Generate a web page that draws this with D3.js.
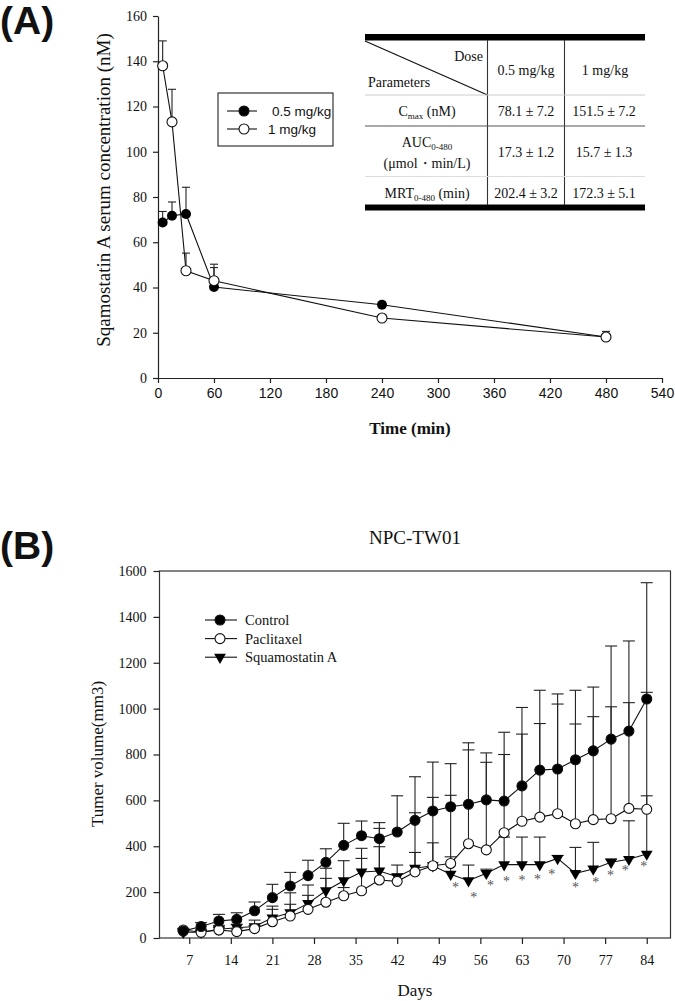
<!DOCTYPE html>
<html><head><meta charset="utf-8">
<script src="https://cdn.jsdelivr.net/npm/d3@7"></script>
<style>body{margin:0;background:#fff}svg{display:block}</style>
</head><body>
<svg id="c" width="675" height="1001"></svg>
<script>
// ---------------- Panel A data ----------------
const timesA = [5, 15, 30, 60, 240, 480];
const lowDoseMean = [68.7, 71.7, 72.5, 40.2, 32.4, 18.1];
const lowDoseTop  = [73.6, 77.8, 84.3, 50.3, 33.5, 20.6];
const highDoseMean = [138.0, 113.2, 47.4, 43.0, 26.5, 18.1];
const highDoseTop  = [149.0, 127.6, 55.2, 48.8, 27.5, 19.5];
const timeTicks = [0, 60, 120, 180, 240, 300, 360, 420, 480, 540];
const concTicks = [0, 20, 40, 60, 80, 100, 120, 140, 160];
const legendA = ["0.5 mg/kg", "1 mg/kg"];

// table
const tableCols = ["0.5 mg/kg", "1 mg/kg"];
const paramMain = ["C", "AUC", "MRT"];
const paramSub = ["max", "0-480", "0-480"];
const paramUnit = ["(nM)", "(μmol・min/L)", "(min)"];
const tableLow = ["78.1 ± 7.2", "17.3 ± 1.2", "202.4 ± 3.2"];
const tableHigh = ["151.5 ± 7.2", "15.7 ± 1.3", "172.3 ± 5.1"];

// ---------------- Panel B data ----------------
const daysB = [6, 9, 12, 15, 18, 21, 24, 27, 30, 33, 36, 39, 42, 45, 48, 51, 54, 57, 60, 63, 66, 69, 72, 75, 78, 81, 84];
const controlMean = [30, 50, 74, 81, 119, 176, 227, 272, 330, 404, 446, 433, 462, 513, 554, 572, 583, 602, 597, 663, 732, 737, 777, 816, 867, 902, 1042];
const controlTop  = [38, 67, 103, 110, 157, 234, 286, 339, 389, 500, 510, 503, 620, 703, 767, 760, 851, 807, 897, 1005, 1080, 1064, 1080, 1094, 1273, 1295, 1549];
const paclMean = [35, 25, 35, 28, 41, 71, 96, 125, 156, 184, 206, 253, 247, 288, 315, 325, 411, 384, 459, 509, 527, 542, 498, 516, 520, 565, 561];
const paclTop  = [42, 35, 45, 40, 55, 125, 147, 186, 260, 220, 347, 478, 278, 373, 613, 622, 820, 766, 800, 889, 935, 1020, 933, 965, 1008, 1026, 1071];
const squaMean = [25, 25, 38, 45, 50, 88, 110, 151, 206, 250, 288, 292, 267, 304, 315, 278, 250, 282, 320, 320, 320, 347, 282, 301, 330, 343, 366];
const squaTop  = [30, 32, 55, 60, 78, 139, 197, 231, 304, 337, 391, 398, 318, 546, 415, 354, 318, 300, 440, 440, 440, 360, 395, 417, 345, 511, 620];
const starDays = [51.8, 54.9, 57.7, 60.4, 63, 65.6, 68, 72, 75.4, 77.9, 80.4, 83.5];
const starVals = [235, 192, 245, 263, 267, 270, 293, 235, 256, 286, 311, 328];
const dayTicks = [7, 14, 21, 28, 35, 42, 49, 56, 63, 70, 77, 84];
const volTicks = [0, 200, 400, 600, 800, 1000, 1200, 1400, 1600];
const legendB = ["Control", "Paclitaxel", "Squamostatin A"];

const SERIF = "'Liberation Serif','Times New Roman',serif";
const SANS = "'Liberation Sans',Arial,sans-serif";
const svg = d3.select("#c");

function styleAxis(g, font, size) {
  g.attr("font-family", null).attr("font-size", null);
  g.selectAll("path,line").attr("stroke", "#222").attr("stroke-width", 1.2);
  g.selectAll("text").style("font-family", font).style("font-size", size + "px").attr("fill", "#111");
}

// ================= PANEL A =================
svg.append("text").attr("x", 0).attr("y", 34).text("(A)")
  .style("font-family", SANS).attr("font-weight", "bold").attr("font-size", 39).attr("fill", "#111");

const xA = d3.scaleLinear().domain([0, 540]).range([158, 662]);
const yA = d3.scaleLinear().domain([0, 160]).range([378, 16]);

const gxA = svg.append("g").attr("transform", "translate(0,378)")
  .call(d3.axisBottom(xA).tickValues(timeTicks).tickFormat(d3.format("d")).tickSize(5).tickSizeOuter(0).tickPadding(5));
styleAxis(gxA, SANS, 14);
const gyA = svg.append("g").attr("transform", "translate(158,0)")
  .call(d3.axisLeft(yA).tickValues(concTicks).tickFormat(d3.format("d")).tickSize(5).tickSizeOuter(0).tickPadding(6));
styleAxis(gyA, SERIF, 14);

svg.append("text").attr("transform", "translate(110,190) rotate(-90)").attr("text-anchor", "middle")
  .style("font-family", SERIF).attr("font-size", 19).attr("fill", "#111")
  .text("Sqamostatin A serum concentration (nM)");
svg.append("text").attr("x", 410).attr("y", 434).attr("text-anchor", "middle")
  .style("font-family", SERIF).attr("font-size", 17).attr("font-weight", "bold").attr("fill", "#111")
  .text("Time (min)");

function seriesA(means, tops) {
  const g = svg.append("g");
  timesA.forEach((t, i) => {
    const x = xA(t);
    g.append("line").attr("x1", x).attr("x2", x).attr("y1", yA(means[i])).attr("y2", yA(tops[i])).attr("stroke", "#222").attr("stroke-width", 1.1);
    g.append("line").attr("x1", x - 4).attr("x2", x + 4).attr("y1", yA(tops[i])).attr("y2", yA(tops[i])).attr("stroke", "#222").attr("stroke-width", 1.1);
  });
  return g;
}
seriesA(lowDoseMean, lowDoseTop);
seriesA(highDoseMean, highDoseTop);
const lineA = d3.line().x((d, i) => xA(timesA[i])).y(d => yA(d));
svg.append("path").attr("d", lineA(lowDoseMean)).attr("fill", "none").attr("stroke", "#111").attr("stroke-width", 1.1);
svg.append("path").attr("d", lineA(highDoseMean)).attr("fill", "none").attr("stroke", "#111").attr("stroke-width", 1.1);
svg.append("g").selectAll("circle").data(lowDoseMean).join("circle")
  .attr("cx", (d, i) => xA(timesA[i])).attr("cy", d => yA(d)).attr("r", 5).attr("fill", "#000");
svg.append("g").selectAll("circle").data(highDoseMean).join("circle")
  .attr("cx", (d, i) => xA(timesA[i])).attr("cy", d => yA(d)).attr("r", 5).attr("fill", "#fff").attr("stroke", "#111").attr("stroke-width", 1.1);

// legend A
svg.append("rect").attr("x", 218).attr("y", 93).attr("width", 115).attr("height", 53)
  .attr("fill", "#fff").attr("stroke", "#222").attr("stroke-width", 1.1);
legendA.forEach((lab, i) => {
  const y = 111 + i * 18;
  svg.append("line").attr("x1", 227).attr("x2", 257).attr("y1", y).attr("y2", y).attr("stroke", "#111").attr("stroke-width", 1.1);
  svg.append("circle").attr("cx", 244).attr("cy", y).attr("r", 5)
    .attr("fill", i === 0 ? "#000" : "#fff").attr("stroke", "#111").attr("stroke-width", 1.1);
  svg.append("text").attr("x", i === 0 ? 272 : 268).attr("y", y + 5)
    .style("font-family", SANS).attr("font-size", 13.5).attr("fill", "#111").text(lab);
});

// table
const tb = svg.append("g");
const tL = 365, tR = 645, c1 = 487.5, c2 = 564.5;
tb.append("rect").attr("x", tL).attr("y", 34).attr("width", tR - tL).attr("height", 6.5).attr("fill", "#000");
tb.append("rect").attr("x", tL).attr("y", 204.5).attr("width", tR - tL).attr("height", 6).attr("fill", "#000");
tb.append("line").attr("x1", tL).attr("y1", 41).attr("x2", c1).attr("y2", 95).attr("stroke", "#111").attr("stroke-width", 1.2);
[c1, c2].forEach(x => tb.append("line").attr("x1", x).attr("x2", x).attr("y1", 40).attr("y2", 205).attr("stroke", "#333").attr("stroke-width", 1.1));
tb.append("line").attr("x1", tL).attr("x2", tR).attr("y1", 95).attr("y2", 95).attr("stroke", "#ccc").attr("stroke-width", 1);
tb.append("line").attr("x1", tL).attr("x2", tR).attr("y1", 126).attr("y2", 126).attr("stroke", "#555").attr("stroke-width", 1.1);
tb.append("line").attr("x1", tL).attr("x2", tR).attr("y1", 176.5).attr("y2", 176.5).attr("stroke", "#ddd").attr("stroke-width", 1);
const tt = (x, y, s, anchor) => tb.append("text").attr("x", x).attr("y", y).attr("text-anchor", anchor || "middle")
  .style("font-family", SERIF).attr("font-size", 14).attr("fill", "#111").text(s);
tt(483, 61, "Dose", "end");
tt(368, 86.5, "Parameters", "start");
tt(526, 75, tableCols[0]);
tt(605, 75, tableCols[1]);
const paramY = [115.5, 146.5, 198];
paramMain.forEach((m, i) => {
  const t = tb.append("text").attr("x", 427).attr("y", paramY[i]).attr("text-anchor", "middle")
    .style("font-family", SERIF).attr("font-size", 14).attr("fill", "#111");
  t.append("tspan").text(m);
  t.append("tspan").attr("font-size", 9).attr("dy", 3).text(paramSub[i]);
  if (i !== 1) t.append("tspan").attr("dy", -3).text(" " + paramUnit[i]);
  tt(526, i === 1 ? 157 : paramY[i], tableLow[i]);
  tt(604, i === 1 ? 157 : paramY[i], tableHigh[i]);
});
tt(427, 167.5, paramUnit[1]);

// ================= PANEL B =================
svg.append("text").attr("x", 0).attr("y", 559).text("(B)")
  .style("font-family", SANS).attr("font-weight", "bold").attr("font-size", 39).attr("fill", "#111");
svg.append("text").attr("x", 415).attr("y", 544).attr("text-anchor", "middle")
  .style("font-family", SERIF).attr("font-size", 19).attr("fill", "#111").text("NPC-TW01");

const xB = d3.scaleLinear().domain([2, 88]).range([159.5, 670.5]);
const yB = d3.scaleLinear().domain([0, 1600]).range([938, 571]);

svg.append("rect").attr("x", 159.5).attr("y", 571).attr("width", 511).attr("height", 367)
  .attr("fill", "none").attr("stroke", "#333").attr("stroke-width", 1.2);
const gxB = svg.append("g").attr("transform", "translate(0,938)")
  .call(d3.axisBottom(xB).tickValues(dayTicks).tickFormat(d3.format("d")).tickSize(6).tickSizeOuter(0).tickPadding(11));
styleAxis(gxB, SERIF, 14);
gxB.select(".domain").remove();
const gyB = svg.append("g").attr("transform", "translate(159.5,0)")
  .call(d3.axisLeft(yB).tickValues(volTicks).tickFormat(d3.format("d")).tickSize(6).tickSizeOuter(0).tickPadding(7));
styleAxis(gyB, SERIF, 14);
gyB.select(".domain").remove();

svg.append("text").attr("transform", "translate(103,754) rotate(-90)").attr("text-anchor", "middle")
  .style("font-family", SERIF).attr("font-size", 17).attr("fill", "#111").text("Tumer volume(mm3)");
svg.append("text").attr("x", 415).attr("y", 996).attr("text-anchor", "middle")
  .style("font-family", SERIF).attr("font-size", 17).attr("fill", "#111").text("Days");

const seriesB = [
  {mean: controlMean, top: controlTop, type: "filled"},
  {mean: paclMean, top: paclTop, type: "open"},
  {mean: squaMean, top: squaTop, type: "tri"}
];
const eg = svg.append("g");
seriesB.forEach(s => {
  daysB.forEach((d, i) => {
    const x = xB(d);
    eg.append("line").attr("x1", x).attr("x2", x).attr("y1", yB(s.mean[i])).attr("y2", yB(s.top[i])).attr("stroke", "#222").attr("stroke-width", 1.1);
    eg.append("line").attr("x1", x - 6).attr("x2", x + 6).attr("y1", yB(s.top[i])).attr("y2", yB(s.top[i])).attr("stroke", "#222").attr("stroke-width", 1.1);
  });
});
const lineB = d3.line().x((d, i) => xB(daysB[i])).y(d => yB(d));
const triPath = d3.symbol().type(d3.symbolTriangle).size(60);
function drawMarker(g, type, x, y) {
  if (type === "tri") {
    g.append("path").attr("d", triPath()).attr("transform", `translate(${x},${y}) rotate(180)`).attr("fill", "#000");
  } else {
    g.append("circle").attr("cx", x).attr("cy", y).attr("r", 5)
      .attr("fill", type === "filled" ? "#000" : "#fff").attr("stroke", "#111").attr("stroke-width", 1.1);
  }
}
seriesB.forEach(s => {
  svg.append("path").attr("d", lineB(s.mean)).attr("fill", "none").attr("stroke", "#111").attr("stroke-width", 1.1);
});
[2, 1, 0].forEach(k => {
  const s = seriesB[k];
  const g = svg.append("g");
  daysB.forEach((d, i) => drawMarker(g, s.type, xB(d), yB(s.mean[i])));
});
svg.append("g").selectAll("text").data(starDays).join("text")
  .attr("x", d => xB(d)).attr("y", (d, i) => yB(starVals[i]) + 8).attr("text-anchor", "middle")
  .style("font-family", SERIF).attr("font-size", 14).attr("fill", "#555").text("*");

// legend B
legendB.forEach((lab, i) => {
  const y = 620 + i * 18.6;
  svg.append("line").attr("x1", 205).attr("x2", 237).attr("y1", y).attr("y2", y).attr("stroke", "#111").attr("stroke-width", 1.1);
  drawMarker(svg, seriesB[i].type, 220, y);
  svg.append("text").attr("x", 245).attr("y", y + 5).style("font-family", SERIF).attr("font-size", 14.5).attr("fill", "#111").text(lab);
});
</script>
</body></html>
